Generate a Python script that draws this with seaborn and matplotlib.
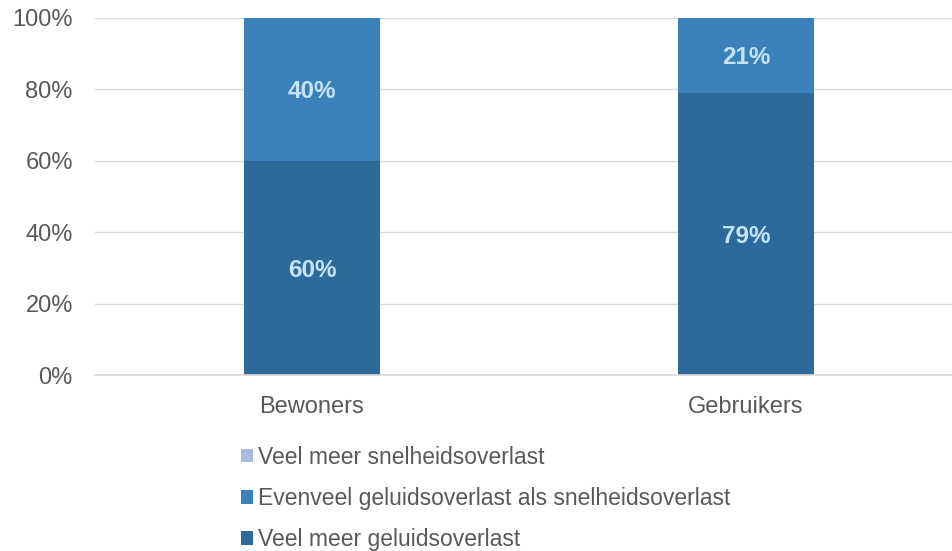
import matplotlib
matplotlib.use("Agg")
import matplotlib.pyplot as plt
from matplotlib.patches import Patch
import numpy as np
import pandas as pd
import seaborn as sns

groups = ["Bewoners", "Gebruikers"]
veel_geluid = [60, 79]
evenveel = [40, 21]
veel_snelheid = [0, 0]

series_names = [
    "Veel meer snelheidsoverlast",
    "Evenveel geluidsoverlast als snelheidsoverlast",
    "Veel meer geluidsoverlast",
]
colors = ["#A5BCDA", "#3A80BB", "#2E6A99"]

sns.set_theme(style="white")
plt.rcParams["font.family"] = ["Liberation Sans", "DejaVu Sans"]

fig = plt.figure(figsize=(9.53, 5.51), dpi=100)
ax = fig.add_axes([95 / 953, 176 / 551, 858 / 953, 357 / 551])

# stacked bars: draw cumulative totals, tallest first
bottom_to_top = [veel_geluid, evenveel, veel_snelheid]
cum = np.cumsum(np.array(bottom_to_top), axis=0)
layer_colors = [colors[2], colors[1], colors[0]]
for i in reversed(range(len(bottom_to_top))):
    df = pd.DataFrame({"groep": groups, "waarde": cum[i]})
    sns.barplot(data=df, x="groep", y="waarde", color=layer_colors[i],
                width=0.313, saturation=1, linewidth=0, ax=ax, zorder=2)

# segment labels
for j in range(len(groups)):
    base = 0
    for i, vals in enumerate(bottom_to_top):
        v = vals[j]
        if v > 0:
            ax.text(j, base + v / 2, f"{v}%", ha="center", va="center_baseline",
                    fontsize=17.5, fontweight="bold", color="#C5E3F6", zorder=3)
        base += v

ax.set_ylim(0, 100)
ax.set_xlim(-0.5, 1.477)
ax.set_yticks(np.arange(0, 101, 20))
ax.set_yticklabels([f"{t}%" for t in range(0, 101, 20)])
ax.yaxis.grid(True, color="#D9D9D9", linewidth=1, zorder=0)
ax.set_axisbelow(True)
ax.set_xlabel("")
ax.set_ylabel("")
for s in ["top", "right", "left"]:
    ax.spines[s].set_visible(False)
ax.spines["bottom"].set_color("#D9D9D9")
ax.tick_params(axis="y", length=0, labelsize=17, labelcolor="#595959", pad=16)
ax.tick_params(axis="x", length=0, labelsize=17, labelcolor="#595959", pad=15)

handles = [Patch(facecolor=c, edgecolor="none") for c in colors]
fig.legend(handles, series_names, loc="upper left",
           bbox_to_anchor=(220 / 953, 1 - 425 / 551), frameon=False,
           fontsize=16.5, labelcolor="#595959", handlelength=0.52,
           handleheight=0.52, handletextpad=0.25, labelspacing=0.8,
           borderpad=0.4)

fig.savefig("out.png", dpi=100)
